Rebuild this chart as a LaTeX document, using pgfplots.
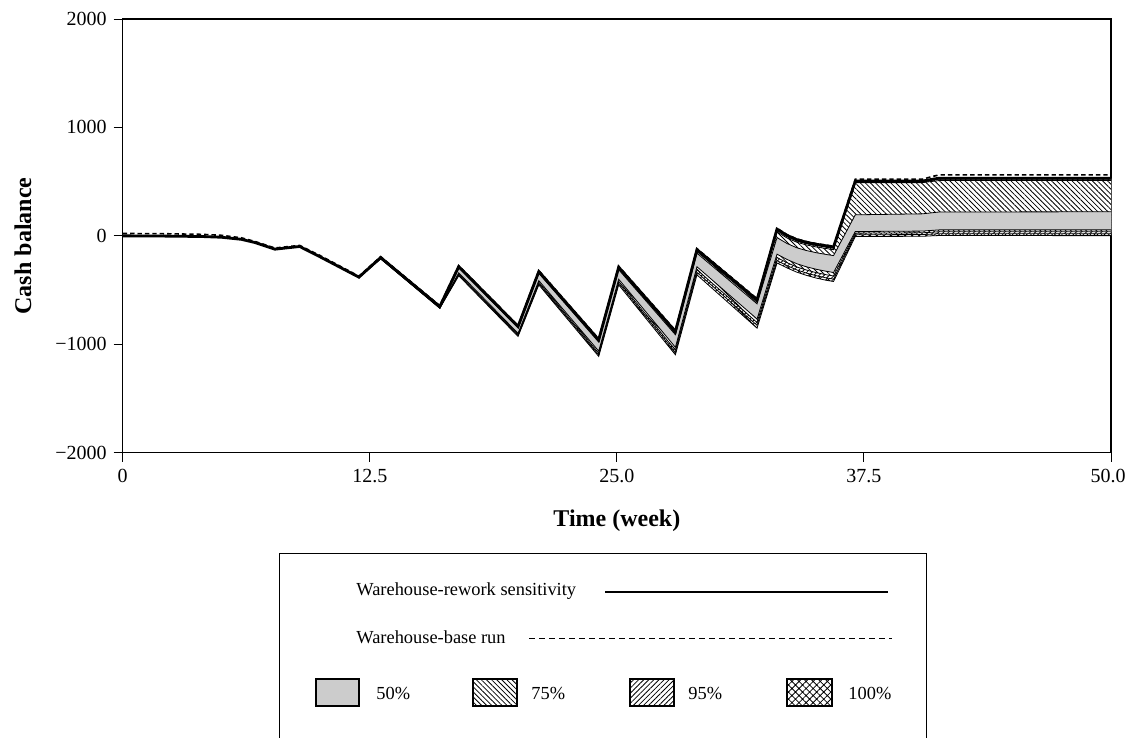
\documentclass[border=0pt]{standalone}
\usepackage{fontspec}
\setmainfont{Liberation Serif}
\usepackage{pgfplots}
\pgfplotsset{compat=1.18}
\usepackage{pgfplotstable}
\usepgfplotslibrary{fillbetween}
\usetikzlibrary{patterns,patterns.meta}

\pgfplotstableread{
x T U95 U75 U50 L50 L75 L95 B base
0 0 0 0 0 0 0 0 0 22
2 -2 -2 -2 -2 -2 -2 -2 -2 20
4 -6 -6 -6 -6 -6 -6 -6 -6 14
5 -13 -13 -13 -13 -13 -13 -13 -13 5
6 -32 -32 -32 -32 -32 -32 -32 -32 -18
6.7 -62 -62 -62 -62 -62 -62 -62 -62 -52
7.7 -123 -123 -123 -123 -123 -123 -123 -123 -112
8.95 -98 -98 -98 -98 -98 -98 -98 -98 -88
10 -195 -195 -195 -195 -195 -195 -195 -195 -183
11.95 -381 -381 -382 -382 -384 -385 -385 -386 -372
13.05 -200 -200 -201 -202 -208 -210 -211 -212 -192
16.04 -652 -653 -653 -654 -663 -665 -666 -668 -644
17.0 -283 -286 -290 -295 -341 -351 -360 -368 -275
20.0 -836 -840 -843 -849 -899 -910 -919 -928 -828
21.05 -329 -334 -339 -346 -413 -427 -440 -452 -320
24.08 -959 -965 -971 -980 -1063 -1081 -1097 -1112 -950
25.09 -289 -296 -302 -312 -400 -419 -436 -452 -280
27.96 -882 -891 -899 -912 -1028 -1054 -1076 -1097 -872
29.05 -127 -136 -146 -160 -285 -313 -337 -360 -118
32.09 -590 -600 -611 -627 -767 -799 -825 -851 -580
33.1 62 50 37 -16 -169 -200 -228 -250 70
33.6 5 -7 -19 -70 -217 -247 -274 -295 12
34.1 -35 -47 -59 -110 -257 -287 -314 -335 -28
34.6 -60 -72 -84 -136 -286 -316 -344 -365 -53
35.1 -78 -90 -103 -156 -309 -340 -368 -390 -72
35.6 -92 -105 -117 -172 -327 -359 -388 -410 -86
35.96 -102 -115 -128 -182 -338 -370 -399 -421 -96
37.06 505 498 491 194 40 25 10 -6 522
40.45 505 498 491 203 44 28 12 -4 522
40.9 520 511 501 212 50 33 16 0 545
41.3 532 523 510 220 55 38 20 3 562
50 532 523 510 222 55 38 20 2 562
}\cashdata

\begin{document}
\begin{tikzpicture}
\begin{axis}[
  at={(61.35pt,-226.35pt)}, anchor=south west,
  scale only axis, width=494.2pt, height=216.85pt,
  xmin=0, xmax=50, ymin=-2000, ymax=2000,
  xtick={0,12.5,25,37.5,50}, xticklabels={0,12.5,25.0,37.5,{\hspace*{-3pt}50.0}},
  ytick={-2000,-1000,0,1000,2000}, yticklabels={−2000,−1000,0,1000,2000},
  xtick pos=left, ytick pos=left,
  tick align=outside, major tick length=4.5pt,
  tick style={black, line width=0.5pt},
  axis line style={line width=0.6pt},
  ticklabel style={font=\fontsize{10}{12}\selectfont},
  xlabel={Time (week)}, ylabel={Cash balance},
  label style={font=\bfseries\fontsize{12}{14}\selectfont},
  x label style={at={(axis description cs:0.5,-0.157)}, anchor=center},
  y label style={at={(axis description cs:-0.1009,0.4766)}, anchor=center},
]
\addplot[draw=none, name path=T] table[x=x,y=T]{\cashdata};
\addplot[draw=none, name path=U95] table[x=x,y=U95]{\cashdata};
\addplot[draw=none, name path=U75] table[x=x,y=U75]{\cashdata};
\addplot[draw=none, name path=U50] table[x=x,y=U50]{\cashdata};
\addplot[draw=none, name path=L50] table[x=x,y=L50]{\cashdata};
\addplot[draw=none, name path=L75] table[x=x,y=L75]{\cashdata};
\addplot[draw=none, name path=L95] table[x=x,y=L95]{\cashdata};
\addplot[draw=none, name path=B] table[x=x,y=B]{\cashdata};
% 100% band
\addplot[fill=white] fill between[of=T and B];
\addplot[pattern={Hatch[angle=45,distance=2.5pt,line width=0.4pt]}] fill between[of=T and B];
% 95% band
\addplot[fill=white] fill between[of=U95 and L95];
\addplot[pattern={Lines[angle=45,distance=1.8pt,line width=0.4pt]}] fill between[of=U95 and L95];
% 75% band
\addplot[fill=white] fill between[of=U75 and L75];
\addplot[pattern={Lines[angle=-45,distance=1.8pt,line width=0.4pt]}] fill between[of=U75 and L75];
% 50% band
\addplot[fill=black!20] fill between[of=U50 and L50];
% boundaries
\pgfplotsinvokeforeach{U95,U75,U50,L50,L75,L95,B}{
  \addplot[black, line width=0.4pt] table[x=x,y=#1]{\cashdata};
}
\addplot[black, line width=0.8pt, dash pattern=on 2.2pt off 1.5pt] table[x=x,y=base]{\cashdata};
\addplot[black, line width=1.4pt] table[x=x,y=T]{\cashdata};
\end{axis}

\begin{scope}[x=0.5pt,y=-0.5pt, every node/.style={font=\fontsize{9.2}{11}\selectfont, inner sep=0pt, anchor=base west}]
\draw[line width=0.5pt] (279,780) -- (279,553) -- (926,553) -- (926,780);
\node at (356,595) {Warehouse-rework sensitivity};
\draw[line width=0.7pt] (605,592) -- (888,592);
\node at (356,643) {Warehouse-base run};
\draw[line width=0.7pt, dash pattern=on 3pt off 2pt] (529,638.5) -- (892,638.5);
\draw[fill=black!20, line width=0.6pt] (316,679) rectangle (359,706);
\node at (376,699.3) {50\%};
\draw[pattern={Lines[angle=-45,distance=1.8pt,line width=0.4pt]}, line width=0.6pt] (473,679) rectangle (517,706);
\node at (531,699.3) {75\%};
\draw[pattern={Lines[angle=45,distance=1.8pt,line width=0.4pt]}, line width=0.6pt] (630,679) rectangle (674,706);
\node at (688,699.3) {95\%};
\draw[pattern={Hatch[angle=45,distance=2.5pt,line width=0.4pt]}, line width=0.6pt] (787,679) rectangle (832,706);
\node at (848,699.3) {100\%};
\end{scope}
\pgfresetboundingbox
\path[use as bounding box] (0,0) rectangle (563pt,-369pt);
\end{tikzpicture}
\end{document}
